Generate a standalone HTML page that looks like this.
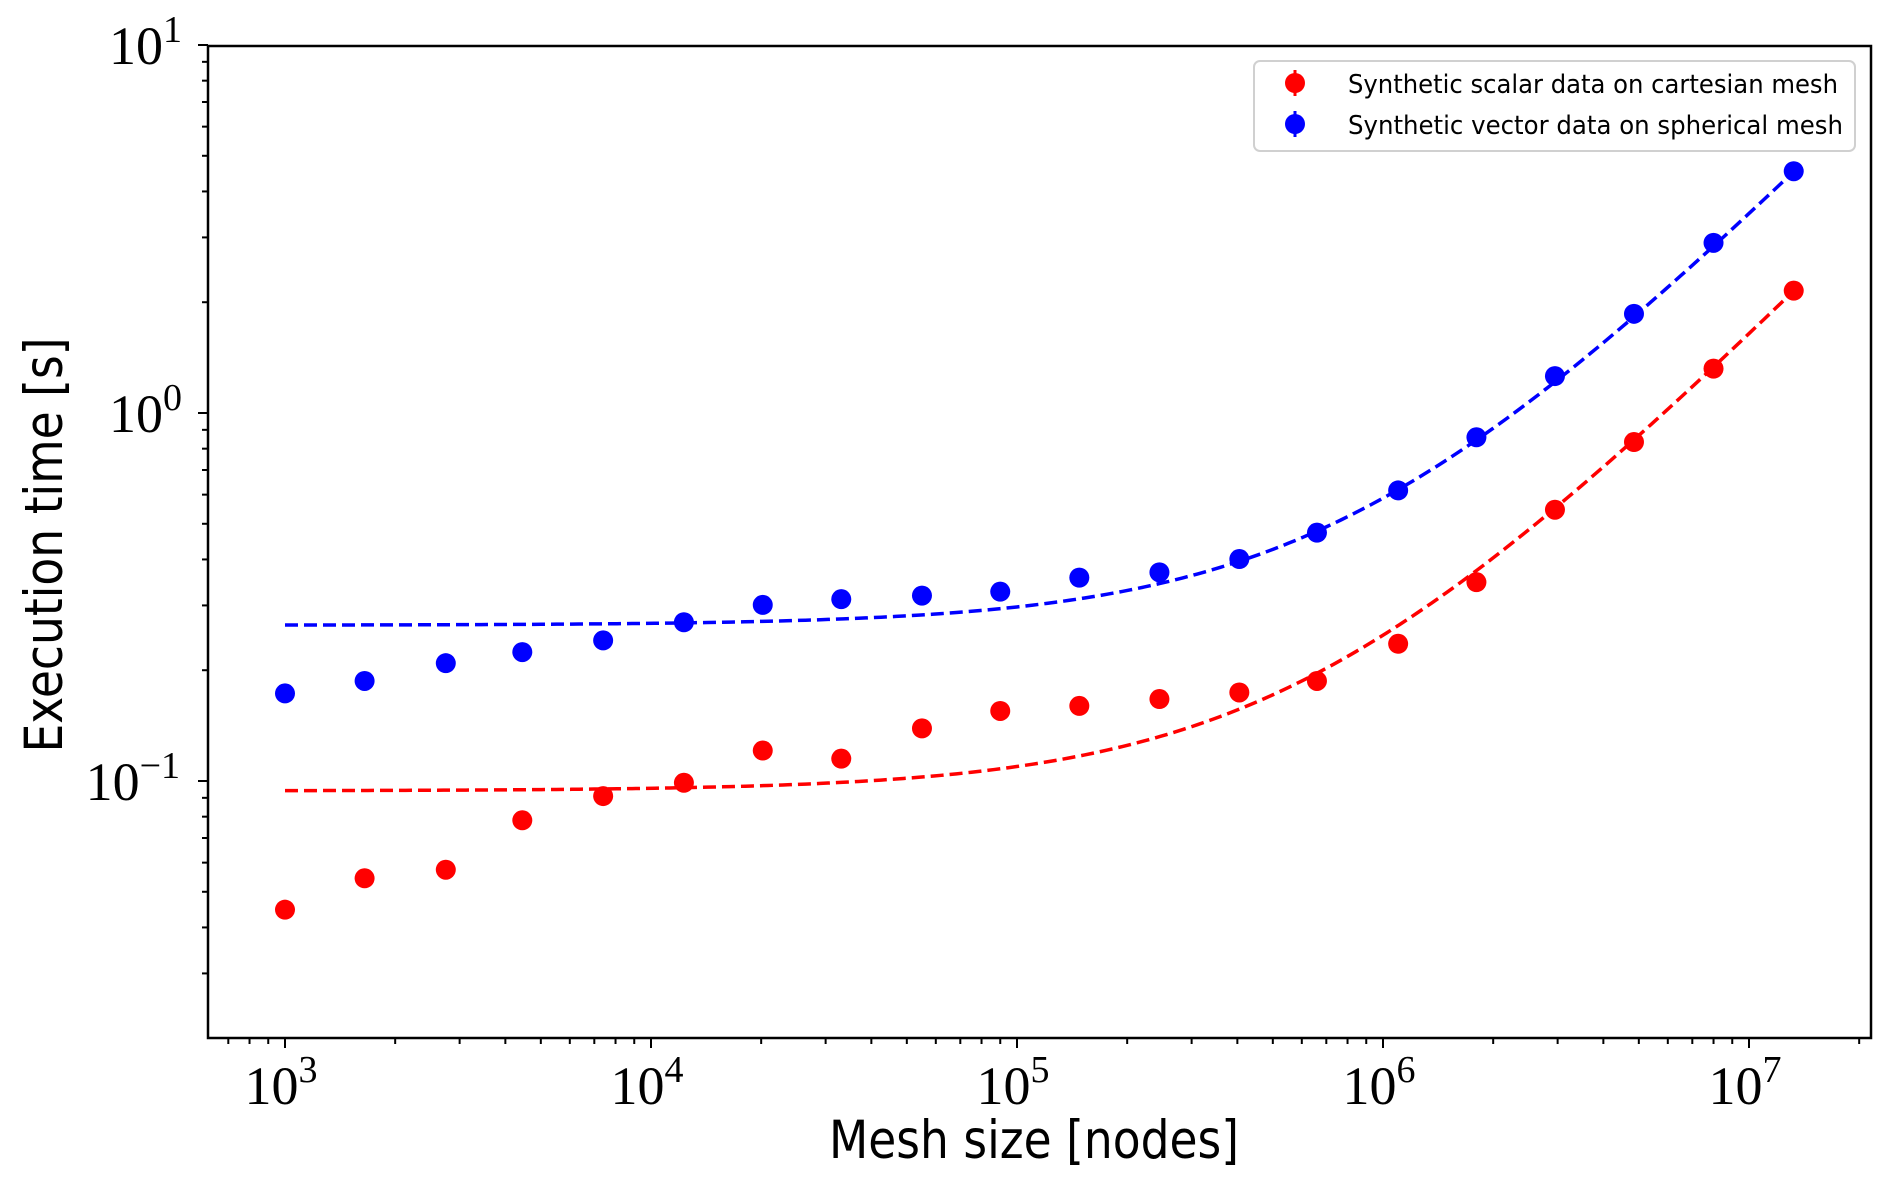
<!DOCTYPE html>
<html><head><meta charset="utf-8"><style>
html,body{margin:0;padding:0;background:#fff;}
svg{display:block;}
</style></head><body>
<svg id="chart" width="1892" height="1196" viewBox="0 0 1892 1196" xmlns="http://www.w3.org/2000/svg">
<rect x="0" y="0" width="1892" height="1196" fill="#fff"/>
<g id="marks"></g>
<g id="axes"></g>
<text x="1034" y="1158" text-anchor="middle" font-family="'DejaVu Sans','Liberation Sans',sans-serif" font-size="53" textLength="410" lengthAdjust="spacingAndGlyphs">Mesh size [nodes]</text>
<text transform="translate(62,545) rotate(-90)" text-anchor="middle" font-family="'DejaVu Sans','Liberation Sans',sans-serif" font-size="53" textLength="415" lengthAdjust="spacingAndGlyphs">Execution time [s]</text>
<g>
<rect x="1254" y="61" width="601" height="90" rx="6" fill="#fff" stroke="#d0d0d0" stroke-width="2"/>
<line x1="1295" y1="70" x2="1295" y2="96" stroke="#ff0000" stroke-width="3"/>
<circle cx="1295" cy="83" r="10" fill="#ff0000"/>
<text x="1348" y="93" font-family="'DejaVu Sans','Liberation Sans',sans-serif" font-size="26" textLength="490" lengthAdjust="spacingAndGlyphs">Synthetic scalar data on cartesian mesh</text>
<line x1="1295" y1="111" x2="1295" y2="137" stroke="#0000ff" stroke-width="3"/>
<circle cx="1295" cy="124" r="10" fill="#0000ff"/>
<text x="1348" y="134" font-family="'DejaVu Sans','Liberation Sans',sans-serif" font-size="26" textLength="495" lengthAdjust="spacingAndGlyphs">Synthetic vector data on spherical mesh</text>
</g>
</svg>
<script>
// ---- data ----
const meshSizes = [1000,1650,2750,4450,7400,12300,20200,33100,55000,90000,148000,245000,405000,660000,1100000,1800000,2950000,4850000,8000000,13250000];
const vectorTimes = [0.173,0.187,0.209,0.224,0.241,0.270,0.301,0.312,0.319,0.327,0.357,0.369,0.401,0.473,0.616,0.859,1.26,1.86,2.90,4.54];
const scalarTimes = [0.0447,0.0544,0.0574,0.0782,0.0910,0.0989,0.121,0.115,0.139,0.155,0.160,0.167,0.174,0.187,0.236,0.347,0.546,0.834,1.32,2.15];
const vectorFit = [0.265, 3.22e-7];   // intercept, slope
const scalarFit = [0.094, 1.55e-7];
const xTickExps = [3,4,5,6,7];
const yTickExps = [-1,0,1];

// ---- scales ----
const L=208,R=1871,T=46,B=1038;
function xs(v){return 285+366*(Math.log10(v)-3);}
function ys(v){return 413-368*Math.log10(v);}
const NS='http://www.w3.org/2000/svg';
const marks=document.getElementById('marks');
const axes=document.getElementById('axes');
function mk(tag,attrs,parent){const e=document.createElementNS(NS,tag);for(const k in attrs)e.setAttribute(k,attrs[k]);parent.appendChild(e);return e;}

function fitPath(fit){
  let d='';const lo=Math.log10(meshSizes[0]),hi=Math.log10(meshSizes[meshSizes.length-1]);
  for(let i=0;i<=200;i++){const lx=lo+(hi-lo)*i/200;const v=Math.pow(10,lx);const t=fit[0]+fit[1]*v;
    d+=(i?'L':'M')+xs(v).toFixed(2)+','+ys(t).toFixed(2);}
  return d;
}
const fv=mk('path',{d:fitPath(vectorFit),fill:'none',stroke:'#0000ff','stroke-width':3.5,'stroke-dasharray':'13,6'},marks);


const fs=mk('path',{d:fitPath(scalarFit),fill:'none',stroke:'#ff0000','stroke-width':3.5,'stroke-dasharray':'13,6'},marks);



meshSizes.forEach((m,i)=>{
  const c1=mk('circle',{cx:xs(m),cy:ys(scalarTimes[i]),r:10,fill:'#ff0000'},marks);
  
  
  const c2=mk('circle',{cx:xs(m),cy:ys(vectorTimes[i]),r:10,fill:'#0000ff'},marks);
  
  
});

const fr=mk('rect',{x:L,y:T,width:R-L,height:B-T,fill:'none',stroke:'#000','stroke-width':2.5},axes);



for(let e=2;e<=7;e++){for(let k=1;k<10;k++){const v=k*Math.pow(10,e);const x=xs(v);if(x<L||x>R)continue;
  const tk=mk('line',{x1:x,y1:B,x2:x,y2:B+(k===1?10:6),stroke:'#000','stroke-width':2},axes);
  
  }}
xTickExps.forEach(e=>{
  const t=mk('text',{x:xs(Math.pow(10,e))-4,y:1104,'text-anchor':'middle','font-family':"'Liberation Serif',serif",'font-size':54},axes);
  
  
  t.textContent='10';
  const s=mk('tspan',{dy:-22,'font-size':38},t);s.textContent=String(e);
});
for(let e=-2;e<=1;e++){for(let k=1;k<10;k++){const v=k*Math.pow(10,e);const y=ys(v);if(y<T-1||y>B)continue;
  const tk=mk('line',{x1:L,y1:y,x2:L-(k===1?10:6),y2:y,stroke:'#000','stroke-width':2},axes);
  
  }}
yTickExps.forEach(e=>{
  const t=mk('text',{x:e<0?180:182,y:ys(Math.pow(10,e))+19,'text-anchor':'end','font-family':"'Liberation Serif',serif",'font-size':54},axes);
  
  
  t.textContent='10';
  const s=mk('tspan',{dy:-22,'font-size':38},t);s.textContent=(e<0?'\u2212':'')+Math.abs(e);
});
</script>
</body></html>
